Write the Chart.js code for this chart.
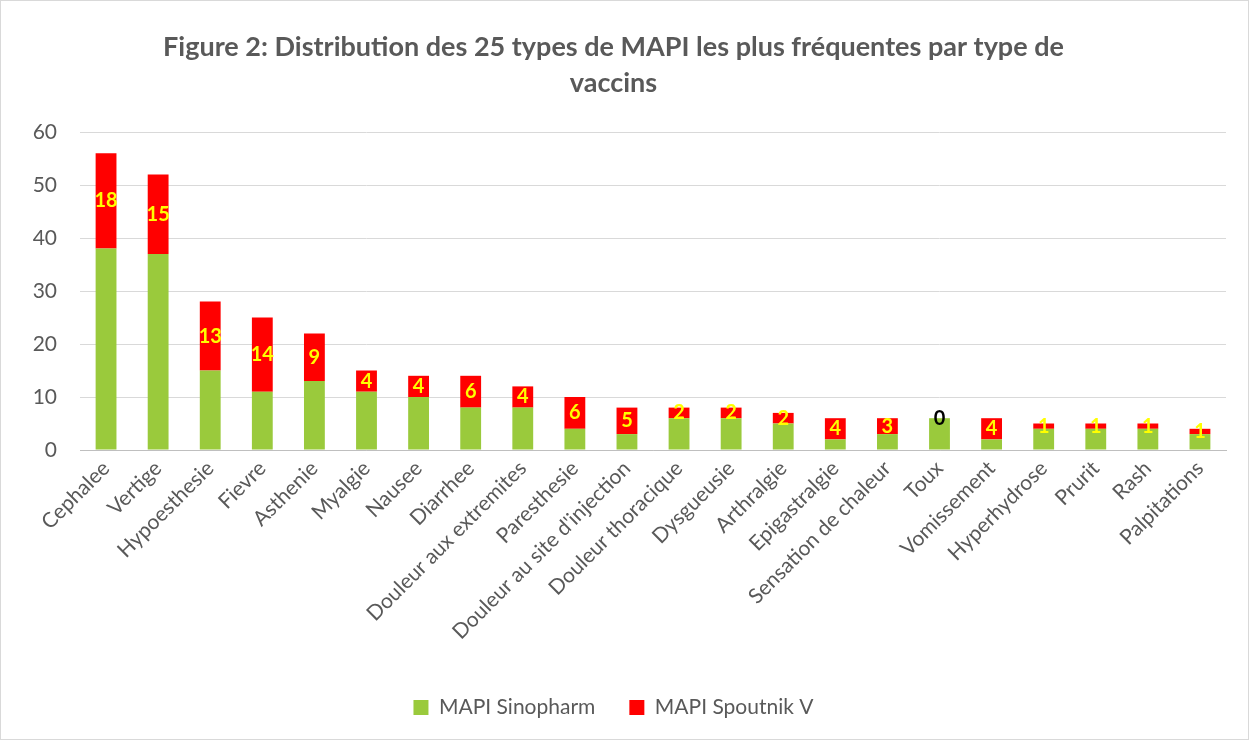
<!DOCTYPE html>
<html>
<head>
<meta charset="utf-8">
<script src="https://cdn.jsdelivr.net/npm/chart.js@4"></script>
<style>
  body { margin: 0; background: #fff; }
  #wrap { width: 1249px; height: 740px; box-sizing: border-box; border: 1px solid #d9d9d9; }
</style>
</head>
<body>
<div id="wrap"><canvas id="chart" width="1247" height="738"></canvas></div>
<script>
// === DONNEES ===
const categories = ["Cephalee", "Vertige", "Hypoesthesie", "Fievre", "Asthenie", "Myalgie", "Nausee",
  "Diarrhee", "Douleur aux extremites", "Paresthesie", "Douleur au site d'injection",
  "Douleur thoracique", "Dysgueusie", "Arthralgie", "Epigastralgie", "Sensation de chaleur",
  "Toux", "Vomissement", "Hyperhydrose", "Prurit", "Rash", "Palpitations"];
const sinopharm = [38, 37, 15, 11, 13, 11, 10, 8, 8, 4, 3, 6, 6, 5, 2, 3, 6, 2, 4, 4, 4, 3];
const spoutnik = [18, 15, 13, 14, 9, 4, 4, 6, 4, 6, 5, 2, 2, 2, 4, 3, 0, 4, 1, 1, 1, 1];
const yTicks = [0, 10, 20, 30, 40, 50, 60];

const grey = "#595959";
const fontName = "Lato, 'Open Sans', sans-serif";

// étiquettes de la série Spoutnik (centrées dans le segment rouge)
const barLabels = {
  id: "barLabels",
  afterDatasetsDraw(chart) {
    const ctx = chart.ctx;
    const meta = chart.getDatasetMeta(1);
    ctx.save();
    ctx.font = "bold 20px " + fontName;
    ctx.textAlign = "center";
    ctx.textBaseline = "middle";
    meta.data.forEach((bar, i) => {
      const v = spoutnik[i];
      ctx.fillStyle = v === 0 ? "#000000" : "#ffff00";
      ctx.fillText(String(v), bar.x, (bar.y + bar.base) / 2);
    });
    ctx.restore();
  }
};

new Chart(document.getElementById("chart").getContext("2d"), {
  type: "bar",
  data: {
    labels: categories,
    datasets: [
      { label: "MAPI Sinopharm", data: sinopharm, backgroundColor: "#9aca3c" },
      { label: "MAPI Spoutnik V", data: spoutnik, backgroundColor: "#ff0000" }
    ]
  },
  options: {
    responsive: false,
    animation: false,
    layout: { padding: { left: 0, right: 22, bottom: 11 } },
    datasets: { bar: { categoryPercentage: 1, barPercentage: 0.4 } },
    plugins: {
      title: {
        display: true,
        text: ["Figure 2: Distribution des 25 types de MAPI les plus fréquentes par type de", "vaccins"],
        color: grey,
        font: { family: fontName, size: 27, weight: "bold", lineHeight: "36px" },
        padding: { top: 28, bottom: 31 }
      },
      legend: {
        position: "bottom",
        labels: {
          color: grey,
          font: { family: fontName, size: 21 },
          boxWidth: 15, boxHeight: 15,
          padding: 34
        }
      },
      tooltip: { enabled: false }
    },
    scales: {
      x: {
        stacked: true,
        grid: { display: false, drawTicks: false },
        border: { color: "#bfbfbf" },
        ticks: { color: grey, font: { family: fontName, size: 21 }, minRotation: 45, maxRotation: 45, padding: 6, autoSkip: false },
        afterFit: (s) => { s.height = 213; }
      },
      y: {
        stacked: true,
        min: 0, max: 60,
        afterBuildTicks: (s) => { s.ticks = yTicks.map((v) => ({ value: v })); },
        grid: { color: "#d9d9d9", drawTicks: false },
        border: { display: false },
        ticks: { color: grey, font: { family: fontName, size: 21 }, padding: 23 },
        afterFit: (s) => { s.width = 79; }
      }
    }
  },
  plugins: [barLabels]
});
</script>
</body>
</html>
